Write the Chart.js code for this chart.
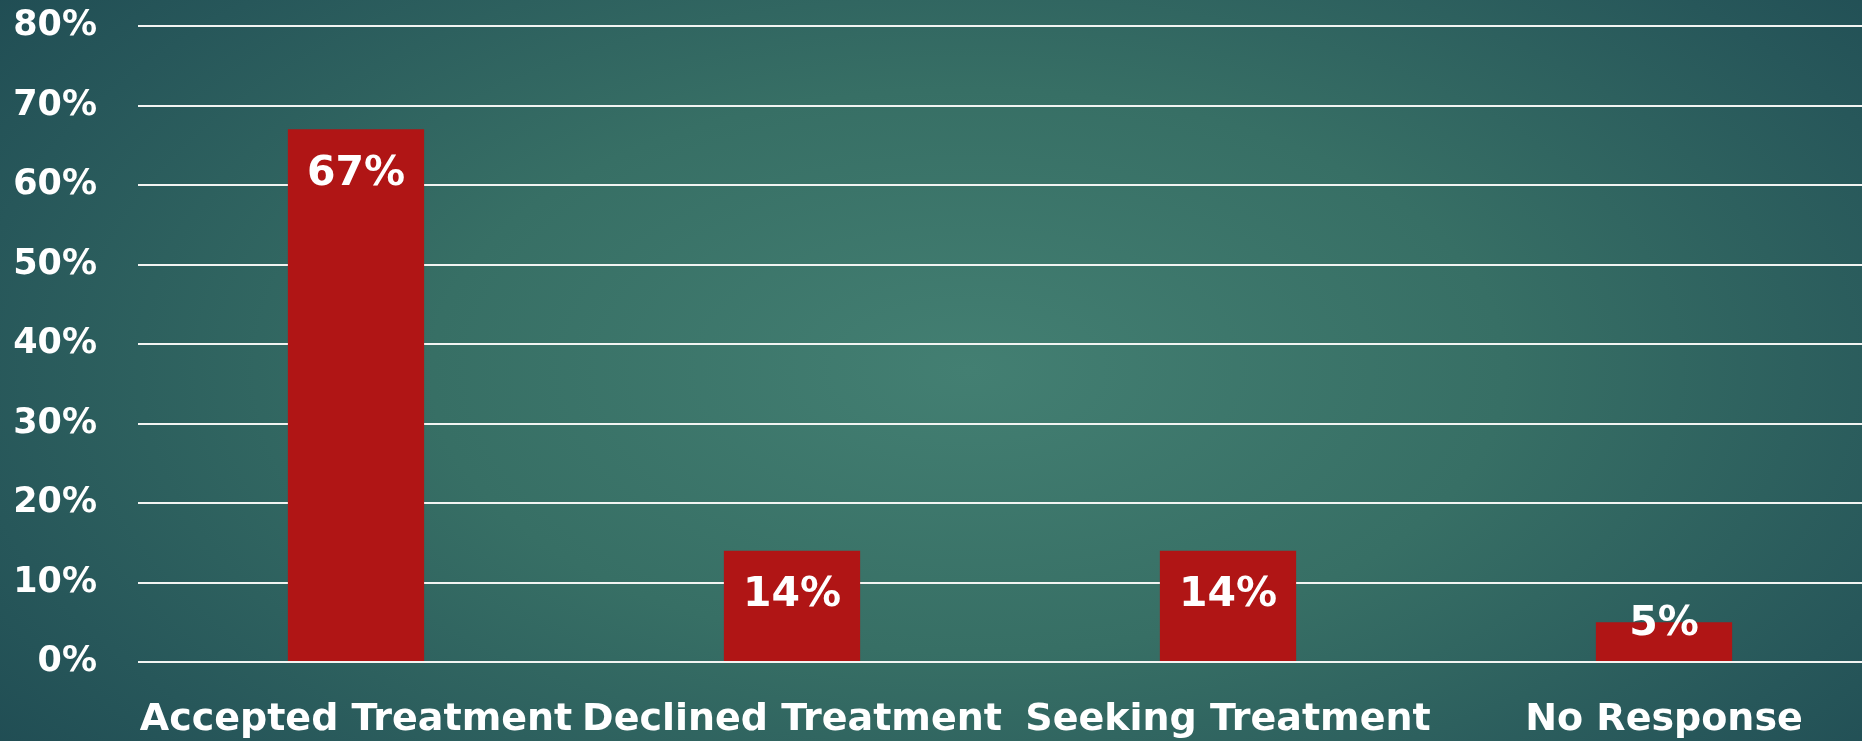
<!DOCTYPE html>
<html lang="en">
<head>
    <meta charset="UTF-8">
    <title>Treatment Responses</title>
    <script src="https://cdn.jsdelivr.net/npm/chart.js@4.4.0/dist/chart.umd.min.js"></script>
    <style>
        html, body {
            margin: 0;
            padding: 0;
            width: 1862px;
            height: 741px;
            overflow: hidden;
            background: radial-gradient(ellipse 72% 95% at 52% 50%, #437f72 0%, #376f65 40%, #27575a 75%, #1c4750 100%);
        }
        #wrap {
            position: absolute;
            left: 0;
            top: 0;
            width: 1882px;
            height: 741px;
        }
    </style>
</head>
<body>
    <div id="wrap"><canvas id="chart" width="1882" height="741"></canvas></div>

    <script>
        // Chart data
        const categories = ['Accepted Treatment', 'Declined Treatment', 'Seeking Treatment', 'No Response'];
        const percentages = [67, 14, 14, 5];
        const yTicks = [0, 10, 20, 30, 40, 50, 60, 70, 80];

        const FONT = "'DejaVu Sans', sans-serif";

        // draws the value labels inside the top of each bar
        const barLabels = {
            id: 'barLabels',
            afterDatasetsDraw(chart) {
                const ctx = chart.ctx;
                const meta = chart.getDatasetMeta(0);
                ctx.save();
                ctx.fillStyle = '#ffffff';
                ctx.font = 'bold 41px ' + FONT;
                ctx.textAlign = 'center';
                ctx.textBaseline = 'middle';
                meta.data.forEach((bar, i) => {
                    const y = Math.min(bar.y + 45, bar.base - 37);
                    ctx.fillText(percentages[i] + '%', bar.x, y);
                });
                ctx.restore();
            }
        };

        const ctx = document.getElementById('chart').getContext('2d');
        new Chart(ctx, {
            type: 'bar',
            data: {
                labels: categories,
                datasets: [{
                    data: percentages,
                    backgroundColor: '#b01515',
                    borderWidth: 0,
                    barPercentage: 0.625,
                    categoryPercentage: 0.5
                }]
            },
            options: {
                responsive: false,
                animation: false,
                layout: { padding: { top: 26, right: 0, left: 0, bottom: 0 } },
                plugins: {
                    legend: { display: false },
                    tooltip: { enabled: false }
                },
                scales: {
                    x: {
                        grid: { display: false },
                        border: { display: false },
                        ticks: {
                            color: '#ffffff',
                            font: { family: FONT, size: 38, weight: 'bold' },
                            padding: 27,
                            maxRotation: 0,
                            autoSkip: false
                        },
                        afterFit(scale) {
                            scale.height = 79;
                            scale.paddingLeft = 0;
                            scale.paddingRight = 0;
                        }
                    },
                    y: {
                        min: 0,
                        max: 80,
                        afterBuildTicks(scale) {
                            scale.ticks = yTicks.map(v => ({ value: v }));
                        },
                        grid: {
                            color: '#f2f4f2',
                            lineWidth: 2,
                            drawTicks: false
                        },
                        border: { display: false },
                        ticks: {
                            color: '#ffffff',
                            font: { family: FONT, size: 35, weight: 'bold' },
                            padding: 41,
                            callback: v => v + '%'
                        },
                        afterFit(scale) {
                            scale.width = 138;
                            scale.paddingTop = 0;
                            scale.paddingBottom = 0;
                        }
                    }
                }
            },
            plugins: [barLabels]
        });
    </script>
</body>
</html>
